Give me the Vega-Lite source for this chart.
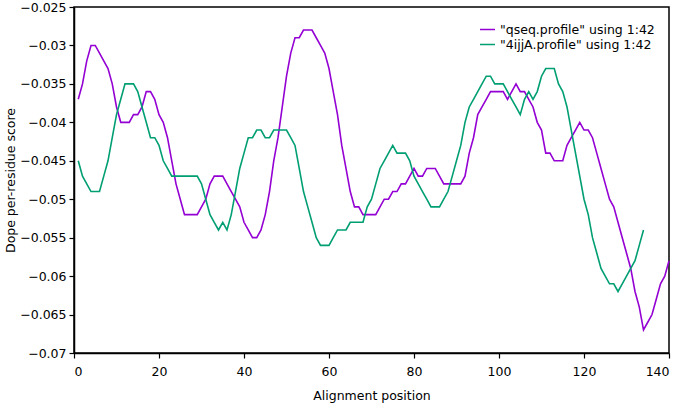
{
  "$schema": "https://vega.github.io/schema/vega-lite/v6.json",
  "width": 595,
  "height": 346,
  "autosize": {"type": "none"},
  "padding": {"left": 74, "top": 7, "right": 16, "bottom": 52},
  "background": "white",
  "config": {
    "font": "DejaVu Sans",
    "view": {"stroke": "black", "strokeWidth": 1.5},
    "axis": {
      "labelFont": "DejaVu Sans", "labelFontSize": 12.5, "labelColor": "black",
      "titleFont": "DejaVu Sans", "titleFontSize": 12.5, "titleFontWeight": "normal", "titleColor": "black",
      "domainColor": "black", "tickColor": "black", "domainWidth": 1.5, "tickWidth": 1.2,
      "grid": false
    }
  },
  "data": {"values": [
    {"s":"qseq","x":1,"y":-0.037},{"s":"qseq","x":2,"y":-0.035},{"s":"qseq","x":3,"y":-0.032},{"s":"qseq","x":4,"y":-0.030},{"s":"qseq","x":5,"y":-0.030},
    {"s":"qseq","x":6,"y":-0.031},{"s":"qseq","x":7,"y":-0.032},{"s":"qseq","x":8,"y":-0.033},{"s":"qseq","x":9,"y":-0.035},{"s":"qseq","x":10,"y":-0.038},
    {"s":"qseq","x":11,"y":-0.040},{"s":"qseq","x":12,"y":-0.040},{"s":"qseq","x":13,"y":-0.040},{"s":"qseq","x":14,"y":-0.039},{"s":"qseq","x":15,"y":-0.039},
    {"s":"qseq","x":16,"y":-0.038},{"s":"qseq","x":17,"y":-0.036},{"s":"qseq","x":18,"y":-0.036},{"s":"qseq","x":19,"y":-0.037},{"s":"qseq","x":20,"y":-0.039},
    {"s":"qseq","x":21,"y":-0.040},{"s":"qseq","x":22,"y":-0.042},{"s":"qseq","x":23,"y":-0.045},{"s":"qseq","x":24,"y":-0.048},{"s":"qseq","x":25,"y":-0.050},
    {"s":"qseq","x":26,"y":-0.052},{"s":"qseq","x":27,"y":-0.052},{"s":"qseq","x":28,"y":-0.052},{"s":"qseq","x":29,"y":-0.052},{"s":"qseq","x":30,"y":-0.051},
    {"s":"qseq","x":31,"y":-0.050},{"s":"qseq","x":32,"y":-0.048},{"s":"qseq","x":33,"y":-0.047},{"s":"qseq","x":34,"y":-0.047},{"s":"qseq","x":35,"y":-0.047},
    {"s":"qseq","x":36,"y":-0.048},{"s":"qseq","x":37,"y":-0.049},{"s":"qseq","x":38,"y":-0.050},{"s":"qseq","x":39,"y":-0.051},{"s":"qseq","x":40,"y":-0.053},
    {"s":"qseq","x":41,"y":-0.054},{"s":"qseq","x":42,"y":-0.055},{"s":"qseq","x":43,"y":-0.055},{"s":"qseq","x":44,"y":-0.054},{"s":"qseq","x":45,"y":-0.052},
    {"s":"qseq","x":46,"y":-0.049},{"s":"qseq","x":47,"y":-0.045},{"s":"qseq","x":48,"y":-0.042},{"s":"qseq","x":49,"y":-0.038},{"s":"qseq","x":50,"y":-0.034},
    {"s":"qseq","x":51,"y":-0.031},{"s":"qseq","x":52,"y":-0.029},{"s":"qseq","x":53,"y":-0.029},{"s":"qseq","x":54,"y":-0.028},{"s":"qseq","x":55,"y":-0.028},
    {"s":"qseq","x":56,"y":-0.028},{"s":"qseq","x":57,"y":-0.029},{"s":"qseq","x":58,"y":-0.030},{"s":"qseq","x":59,"y":-0.031},{"s":"qseq","x":60,"y":-0.033},
    {"s":"qseq","x":61,"y":-0.036},{"s":"qseq","x":62,"y":-0.039},{"s":"qseq","x":63,"y":-0.043},{"s":"qseq","x":64,"y":-0.046},{"s":"qseq","x":65,"y":-0.049},
    {"s":"qseq","x":66,"y":-0.051},{"s":"qseq","x":67,"y":-0.051},{"s":"qseq","x":68,"y":-0.052},{"s":"qseq","x":69,"y":-0.052},{"s":"qseq","x":70,"y":-0.052},
    {"s":"qseq","x":71,"y":-0.052},{"s":"qseq","x":72,"y":-0.051},{"s":"qseq","x":73,"y":-0.050},{"s":"qseq","x":74,"y":-0.050},{"s":"qseq","x":75,"y":-0.049},
    {"s":"qseq","x":76,"y":-0.049},{"s":"qseq","x":77,"y":-0.048},{"s":"qseq","x":78,"y":-0.048},{"s":"qseq","x":79,"y":-0.047},{"s":"qseq","x":80,"y":-0.046},
    {"s":"qseq","x":81,"y":-0.047},{"s":"qseq","x":82,"y":-0.047},{"s":"qseq","x":83,"y":-0.046},{"s":"qseq","x":84,"y":-0.046},{"s":"qseq","x":85,"y":-0.046},
    {"s":"qseq","x":86,"y":-0.047},{"s":"qseq","x":87,"y":-0.048},{"s":"qseq","x":88,"y":-0.048},{"s":"qseq","x":89,"y":-0.048},{"s":"qseq","x":90,"y":-0.048},
    {"s":"qseq","x":91,"y":-0.048},{"s":"qseq","x":92,"y":-0.047},{"s":"qseq","x":93,"y":-0.044},{"s":"qseq","x":94,"y":-0.042},{"s":"qseq","x":95,"y":-0.039},
    {"s":"qseq","x":96,"y":-0.038},{"s":"qseq","x":97,"y":-0.037},{"s":"qseq","x":98,"y":-0.036},{"s":"qseq","x":99,"y":-0.036},{"s":"qseq","x":100,"y":-0.036},
    {"s":"qseq","x":101,"y":-0.036},{"s":"qseq","x":102,"y":-0.037},{"s":"qseq","x":103,"y":-0.036},{"s":"qseq","x":104,"y":-0.035},{"s":"qseq","x":105,"y":-0.036},
    {"s":"qseq","x":106,"y":-0.036},{"s":"qseq","x":107,"y":-0.037},{"s":"qseq","x":108,"y":-0.038},{"s":"qseq","x":109,"y":-0.040},{"s":"qseq","x":110,"y":-0.041},
    {"s":"qseq","x":111,"y":-0.044},{"s":"qseq","x":112,"y":-0.044},{"s":"qseq","x":113,"y":-0.045},{"s":"qseq","x":114,"y":-0.045},{"s":"qseq","x":115,"y":-0.045},
    {"s":"qseq","x":116,"y":-0.043},{"s":"qseq","x":117,"y":-0.042},{"s":"qseq","x":118,"y":-0.041},{"s":"qseq","x":119,"y":-0.040},{"s":"qseq","x":120,"y":-0.041},
    {"s":"qseq","x":121,"y":-0.041},{"s":"qseq","x":122,"y":-0.042},{"s":"qseq","x":123,"y":-0.044},{"s":"qseq","x":124,"y":-0.046},{"s":"qseq","x":125,"y":-0.048},
    {"s":"qseq","x":126,"y":-0.050},{"s":"qseq","x":127,"y":-0.051},{"s":"qseq","x":128,"y":-0.053},{"s":"qseq","x":129,"y":-0.055},{"s":"qseq","x":130,"y":-0.057},
    {"s":"qseq","x":131,"y":-0.059},{"s":"qseq","x":132,"y":-0.062},{"s":"qseq","x":133,"y":-0.064},{"s":"qseq","x":134,"y":-0.067},{"s":"qseq","x":135,"y":-0.066},
    {"s":"qseq","x":136,"y":-0.065},{"s":"qseq","x":137,"y":-0.063},{"s":"qseq","x":138,"y":-0.061},{"s":"qseq","x":139,"y":-0.060},{"s":"qseq","x":140,"y":-0.058},
    {"s":"4ijjA","x":1,"y":-0.045},{"s":"4ijjA","x":2,"y":-0.047},{"s":"4ijjA","x":3,"y":-0.048},{"s":"4ijjA","x":4,"y":-0.049},{"s":"4ijjA","x":5,"y":-0.049},
    {"s":"4ijjA","x":6,"y":-0.049},{"s":"4ijjA","x":7,"y":-0.047},{"s":"4ijjA","x":8,"y":-0.045},{"s":"4ijjA","x":9,"y":-0.042},{"s":"4ijjA","x":10,"y":-0.039},
    {"s":"4ijjA","x":11,"y":-0.037},{"s":"4ijjA","x":12,"y":-0.035},{"s":"4ijjA","x":13,"y":-0.035},{"s":"4ijjA","x":14,"y":-0.035},{"s":"4ijjA","x":15,"y":-0.036},
    {"s":"4ijjA","x":16,"y":-0.038},{"s":"4ijjA","x":17,"y":-0.040},{"s":"4ijjA","x":18,"y":-0.042},{"s":"4ijjA","x":19,"y":-0.042},{"s":"4ijjA","x":20,"y":-0.043},
    {"s":"4ijjA","x":21,"y":-0.045},{"s":"4ijjA","x":22,"y":-0.046},{"s":"4ijjA","x":23,"y":-0.047},{"s":"4ijjA","x":24,"y":-0.047},{"s":"4ijjA","x":25,"y":-0.047},
    {"s":"4ijjA","x":26,"y":-0.047},{"s":"4ijjA","x":27,"y":-0.047},{"s":"4ijjA","x":28,"y":-0.047},{"s":"4ijjA","x":29,"y":-0.047},{"s":"4ijjA","x":30,"y":-0.048},
    {"s":"4ijjA","x":31,"y":-0.050},{"s":"4ijjA","x":32,"y":-0.052},{"s":"4ijjA","x":33,"y":-0.053},{"s":"4ijjA","x":34,"y":-0.054},{"s":"4ijjA","x":35,"y":-0.053},
    {"s":"4ijjA","x":36,"y":-0.054},{"s":"4ijjA","x":37,"y":-0.052},{"s":"4ijjA","x":38,"y":-0.049},{"s":"4ijjA","x":39,"y":-0.046},{"s":"4ijjA","x":40,"y":-0.044},
    {"s":"4ijjA","x":41,"y":-0.042},{"s":"4ijjA","x":42,"y":-0.042},{"s":"4ijjA","x":43,"y":-0.041},{"s":"4ijjA","x":44,"y":-0.041},{"s":"4ijjA","x":45,"y":-0.042},
    {"s":"4ijjA","x":46,"y":-0.042},{"s":"4ijjA","x":47,"y":-0.041},{"s":"4ijjA","x":48,"y":-0.041},{"s":"4ijjA","x":49,"y":-0.041},{"s":"4ijjA","x":50,"y":-0.041},
    {"s":"4ijjA","x":51,"y":-0.042},{"s":"4ijjA","x":52,"y":-0.043},{"s":"4ijjA","x":53,"y":-0.046},{"s":"4ijjA","x":54,"y":-0.049},{"s":"4ijjA","x":55,"y":-0.051},
    {"s":"4ijjA","x":56,"y":-0.053},{"s":"4ijjA","x":57,"y":-0.055},{"s":"4ijjA","x":58,"y":-0.056},{"s":"4ijjA","x":59,"y":-0.056},{"s":"4ijjA","x":60,"y":-0.056},
    {"s":"4ijjA","x":61,"y":-0.055},{"s":"4ijjA","x":62,"y":-0.054},{"s":"4ijjA","x":63,"y":-0.054},{"s":"4ijjA","x":64,"y":-0.054},{"s":"4ijjA","x":65,"y":-0.053},
    {"s":"4ijjA","x":66,"y":-0.053},{"s":"4ijjA","x":67,"y":-0.053},{"s":"4ijjA","x":68,"y":-0.053},{"s":"4ijjA","x":69,"y":-0.051},{"s":"4ijjA","x":70,"y":-0.050},
    {"s":"4ijjA","x":71,"y":-0.048},{"s":"4ijjA","x":72,"y":-0.046},{"s":"4ijjA","x":73,"y":-0.045},{"s":"4ijjA","x":74,"y":-0.044},{"s":"4ijjA","x":75,"y":-0.043},
    {"s":"4ijjA","x":76,"y":-0.044},{"s":"4ijjA","x":77,"y":-0.044},{"s":"4ijjA","x":78,"y":-0.044},{"s":"4ijjA","x":79,"y":-0.045},{"s":"4ijjA","x":80,"y":-0.047},
    {"s":"4ijjA","x":81,"y":-0.048},{"s":"4ijjA","x":82,"y":-0.049},{"s":"4ijjA","x":83,"y":-0.050},{"s":"4ijjA","x":84,"y":-0.051},{"s":"4ijjA","x":85,"y":-0.051},
    {"s":"4ijjA","x":86,"y":-0.051},{"s":"4ijjA","x":87,"y":-0.050},{"s":"4ijjA","x":88,"y":-0.049},{"s":"4ijjA","x":89,"y":-0.047},{"s":"4ijjA","x":90,"y":-0.045},
    {"s":"4ijjA","x":91,"y":-0.043},{"s":"4ijjA","x":92,"y":-0.040},{"s":"4ijjA","x":93,"y":-0.038},{"s":"4ijjA","x":94,"y":-0.037},{"s":"4ijjA","x":95,"y":-0.036},
    {"s":"4ijjA","x":96,"y":-0.035},{"s":"4ijjA","x":97,"y":-0.034},{"s":"4ijjA","x":98,"y":-0.034},{"s":"4ijjA","x":99,"y":-0.035},{"s":"4ijjA","x":100,"y":-0.035},
    {"s":"4ijjA","x":101,"y":-0.035},{"s":"4ijjA","x":102,"y":-0.036},{"s":"4ijjA","x":103,"y":-0.037},{"s":"4ijjA","x":104,"y":-0.038},{"s":"4ijjA","x":105,"y":-0.039},
    {"s":"4ijjA","x":106,"y":-0.037},{"s":"4ijjA","x":107,"y":-0.036},{"s":"4ijjA","x":108,"y":-0.037},{"s":"4ijjA","x":109,"y":-0.036},{"s":"4ijjA","x":110,"y":-0.034},
    {"s":"4ijjA","x":111,"y":-0.033},{"s":"4ijjA","x":112,"y":-0.033},{"s":"4ijjA","x":113,"y":-0.033},{"s":"4ijjA","x":114,"y":-0.035},{"s":"4ijjA","x":115,"y":-0.036},
    {"s":"4ijjA","x":116,"y":-0.038},{"s":"4ijjA","x":117,"y":-0.041},{"s":"4ijjA","x":118,"y":-0.044},{"s":"4ijjA","x":119,"y":-0.047},{"s":"4ijjA","x":120,"y":-0.050},
    {"s":"4ijjA","x":121,"y":-0.052},{"s":"4ijjA","x":122,"y":-0.055},{"s":"4ijjA","x":123,"y":-0.057},{"s":"4ijjA","x":124,"y":-0.059},{"s":"4ijjA","x":125,"y":-0.060},
    {"s":"4ijjA","x":126,"y":-0.061},{"s":"4ijjA","x":127,"y":-0.061},{"s":"4ijjA","x":128,"y":-0.062},{"s":"4ijjA","x":129,"y":-0.061},{"s":"4ijjA","x":130,"y":-0.060},
    {"s":"4ijjA","x":131,"y":-0.059},{"s":"4ijjA","x":132,"y":-0.058},{"s":"4ijjA","x":133,"y":-0.056},{"s":"4ijjA","x":134,"y":-0.054}
  ]},
  "layer": [
    {
      "mark": {"type": "line", "strokeWidth": 1.6},
      "encoding": {
        "x": {"field": "x", "type": "quantitative",
          "scale": {"domain": [0, 140], "nice": false, "zero": false},
          "axis": {"orient": "bottom", "tickSize": 5, "values": [0, 20, 40, 60, 80, 100, 120, 140], "title": "Alignment position", "labelPadding": 7, "titlePadding": 12}},
        "y": {"field": "y", "type": "quantitative",
          "scale": {"domain": [-0.07, -0.025], "nice": false, "zero": false},
          "axis": {"orient": "left", "tickSize": 5, "values": [-0.07, -0.065, -0.06, -0.055, -0.05, -0.045, -0.04, -0.035, -0.03, -0.025],
            "format": "~g", "title": "Dope per-residue score", "labelPadding": 3, "titlePadding": 2}},
        "color": {"field": "s", "type": "nominal",
          "scale": {"domain": ["qseq", "4ijjA"], "range": ["#9400d3", "#009e73"]},
          "legend": {"orient": "top-right", "offset": 14, "title": null,
            "symbolType": "stroke", "symbolSize": 225, "symbolStrokeWidth": 1.5, "rowPadding": 0,
            "labelFontSize": 12.5, "labelColor": "black", "labelLimit": 400, "labelFont": "DejaVu Sans",
            "labelExpr": "datum.value == 'qseq' ? '\"qseq.profile\" using 1:42' : '\"4ijjA.profile\" using 1:42'"}}
      }
    }
  ]
}
